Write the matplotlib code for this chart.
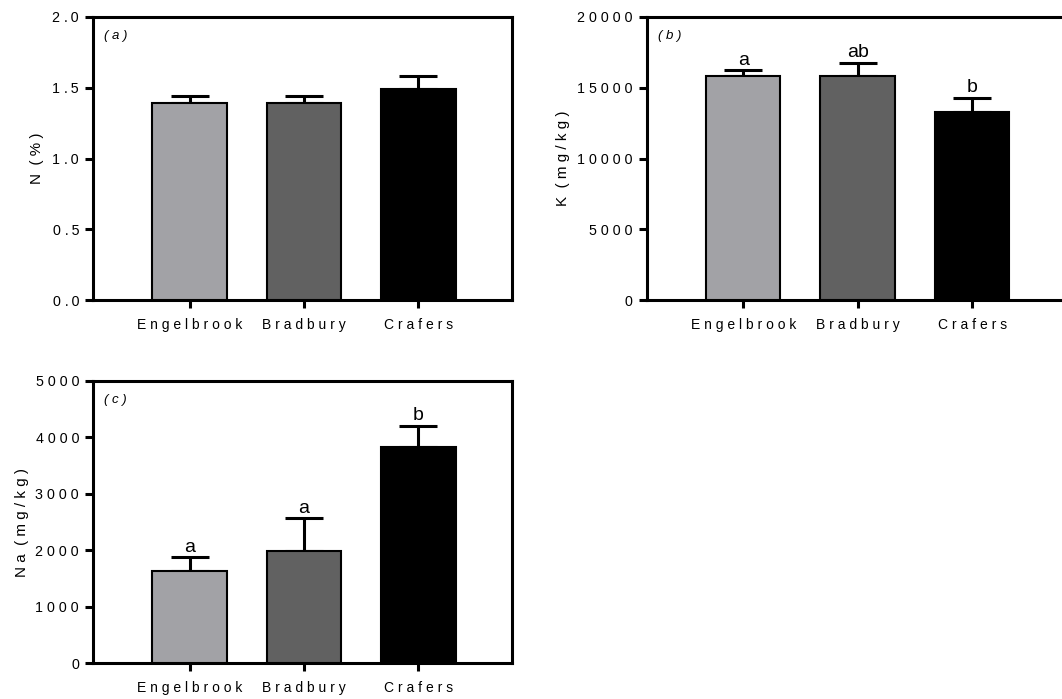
import matplotlib
matplotlib.use("Agg")
import matplotlib.pyplot as plt
import numpy as np

plt.rcParams['font.family'] = ['Liberation Sans', 'DejaVu Sans']

# ---- data ----
sites = ["Engelbrook", "Bradbury", "Crafers"]
colors = ["#A2A2A6", "#616161", "#000000"]

n_mean = [1.39, 1.39, 1.49]
n_err = [0.05, 0.05, 0.09]

k_mean = [15800, 15800, 13300]
k_err = [450, 970, 1000]
k_letters = ["a", "ab", "b"]

na_mean = [1640, 1990, 3830]
na_err = [240, 575, 375]
na_letters = ["a", "a", "b"]

panels = [
    dict(mean=n_mean, err=n_err, letters=None, ylim=(0, 2.0),
         yticks=[0.0, 0.5, 1.0, 1.5, 2.0], fmt="{:.1f}", ylabel="N (%)",
         tag="(a)", pos=[93, 17, 419, 283], labx=-0.134),
    dict(mean=k_mean, err=k_err, letters=k_letters, ylim=(0, 20000),
         yticks=[0, 5000, 10000, 15000, 20000], fmt="{:.0f}", ylabel="K (mg/kg)",
         tag="(b)", pos=[646.7, 17, 419, 283], labx=-0.200),
    dict(mean=na_mean, err=na_err, letters=na_letters, ylim=(0, 5000),
         yticks=[0, 1000, 2000, 3000, 4000, 5000], fmt="{:.0f}", ylabel="Na (mg/kg)",
         tag="(c)", pos=[93, 380.7, 419, 282.7], labx=-0.170),
]


def spaced(s):
    return "  ".join(" ".join(w) for w in s.split(" "))


def spaced_num(s):
    return " ".join(s).replace(" . ", " .\u2009")


W, H = 1062, 699
fig = plt.figure(figsize=(W / 100, H / 100), dpi=100)

LW = 2.2
for p in panels:
    l, t, w, h = p["pos"]
    ax = fig.add_axes([l / W, 1 - (t + h) / H, w / W, h / H])
    x = np.arange(len(sites))
    ax.bar(x, p["mean"], width=0.65, color=colors, edgecolor="black",
           linewidth=1.5, zorder=3)
    ax.errorbar(x, p["mean"], yerr=[np.zeros(len(x)), p["err"]], fmt="none",
                ecolor="black", elinewidth=LW, capsize=13.5, capthick=LW, zorder=2)
    ax.set_xlim(-0.843, 2.817)
    ax.set_ylim(*p["ylim"])
    ax.set_xticks(x)
    ax.set_xticklabels([spaced(s) for s in sites], fontsize=10)
    ax.set_yticks(p["yticks"])
    ax.set_yticklabels([spaced_num(p["fmt"].format(v)) for v in p["yticks"]], fontsize=10.3)
    for sp in ax.spines.values():
        sp.set_linewidth(LW)
    ax.tick_params(axis="both", direction="out", length=5.5, width=LW, color="black")
    ax.tick_params(axis="x", pad=7.5)
    ax.tick_params(axis="y", pad=4.5)
    ax.set_ylabel(spaced(p["ylabel"]), fontsize=10.9)
    ax.yaxis.label.set_va("center")
    ax.yaxis.set_label_coords(p["labx"], 0.5)
    ax.text(11 / 419, 1 - 19 / 283, spaced(p["tag"]), transform=ax.transAxes,
            fontsize=9.5, style="italic", va="center", ha="left")
    if p["letters"]:
        for xi, m, e, lab in zip(x, p["mean"], p["err"], p["letters"]):
            ax.annotate(lab, (xi, m + e), xytext=(0, 1.0), textcoords="offset points",
                        ha="center", va="bottom", fontsize=14)

fig.savefig("out.png", dpi=100)
